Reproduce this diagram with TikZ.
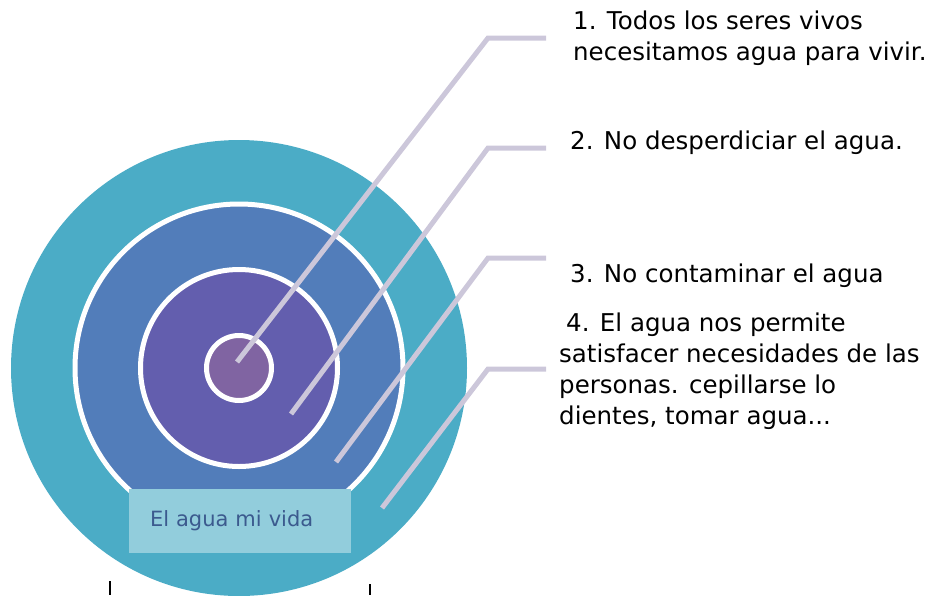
\documentclass[tikz,border=0pt]{standalone}
\usepackage{fontspec}
\setmainfont{DejaVu Sans}
\usepackage{tikz}
\usepackage{xcolor}
\definecolor{aguaOuter}{RGB}{75,172,198}
\definecolor{aguaMid}{RGB}{82,125,186}
\definecolor{aguaInner}{RGB}{99,94,174}
\definecolor{aguaCore}{RGB}{128,100,162}
\definecolor{aguaBox}{RGB}{146,205,220}
\definecolor{aguaText}{RGB}{59,90,142}
\definecolor{guideLila}{RGB}{204,199,218}

\begin{document}
\begin{tikzpicture}[x=1pt, y=-1pt,
  ring/.style={circle, draw=white, line width=5pt, inner sep=0pt},
  guide/.style={draw=guideLila, line width=5pt},
  item/.style={anchor=north west, inner sep=0pt, align=left, font=\fontsize{24.5}{31}\selectfont}]
  \useasboundingbox (0,0) rectangle (937,595);
  \node[circle, fill=aguaOuter, inner sep=0pt, minimum size=456pt] (outer) at (239,368) {};
  \node[ring, fill=aguaMid, minimum size=328pt] (middle) at (outer) {};
  \node[ring, fill=aguaInner, minimum size=197pt] (inner) at (outer) {};
  \node[ring, fill=aguaCore, minimum size=65pt] (core) at (outer) {};
  \node[fill=aguaBox, text=aguaText, minimum height=64pt, text width=180pt, inner xsep=21pt,
    align=left, font=\fontsize{21}{25}\selectfont] (title) at (240,521) {El agua mi vida};

  \coordinate (p1) at (237,362); \coordinate (k1) at (488,38);  \coordinate (e1) at (546,38);
  \coordinate (p2) at (291,414); \coordinate (k2) at (488,148); \coordinate (e2) at (546,148);
  \coordinate (p3) at (336,462); \coordinate (k3) at (488,258); \coordinate (e3) at (546,258);
  \coordinate (p4) at (382,508); \coordinate (k4) at (488,369); \coordinate (e4) at (546,369);
  \foreach \i in {1,...,4}
    \draw[guide] (p\i) -- (k\i) -- (e\i);

  \node[item] (t1) at (573,11) {1. Todos los seres vivos\\necesitamos agua para vivir.};
  \node[item] (t2) at (570,131) {2. No desperdiciar el agua.};
  \node[item] (t3) at (570,264) {3. No contaminar el agua};
  \node[item] (t4) at (559,313) {\hspace{7pt}4. El agua nos permite\\satisfacer necesidades de las\\personas. cepillarse lo\\dientes, tomar agua...};

  \draw[line width=2pt] (110,581) -- (110,595);
  \draw[line width=2pt] (370,584) -- (370,595);
\end{tikzpicture}
\end{document}
